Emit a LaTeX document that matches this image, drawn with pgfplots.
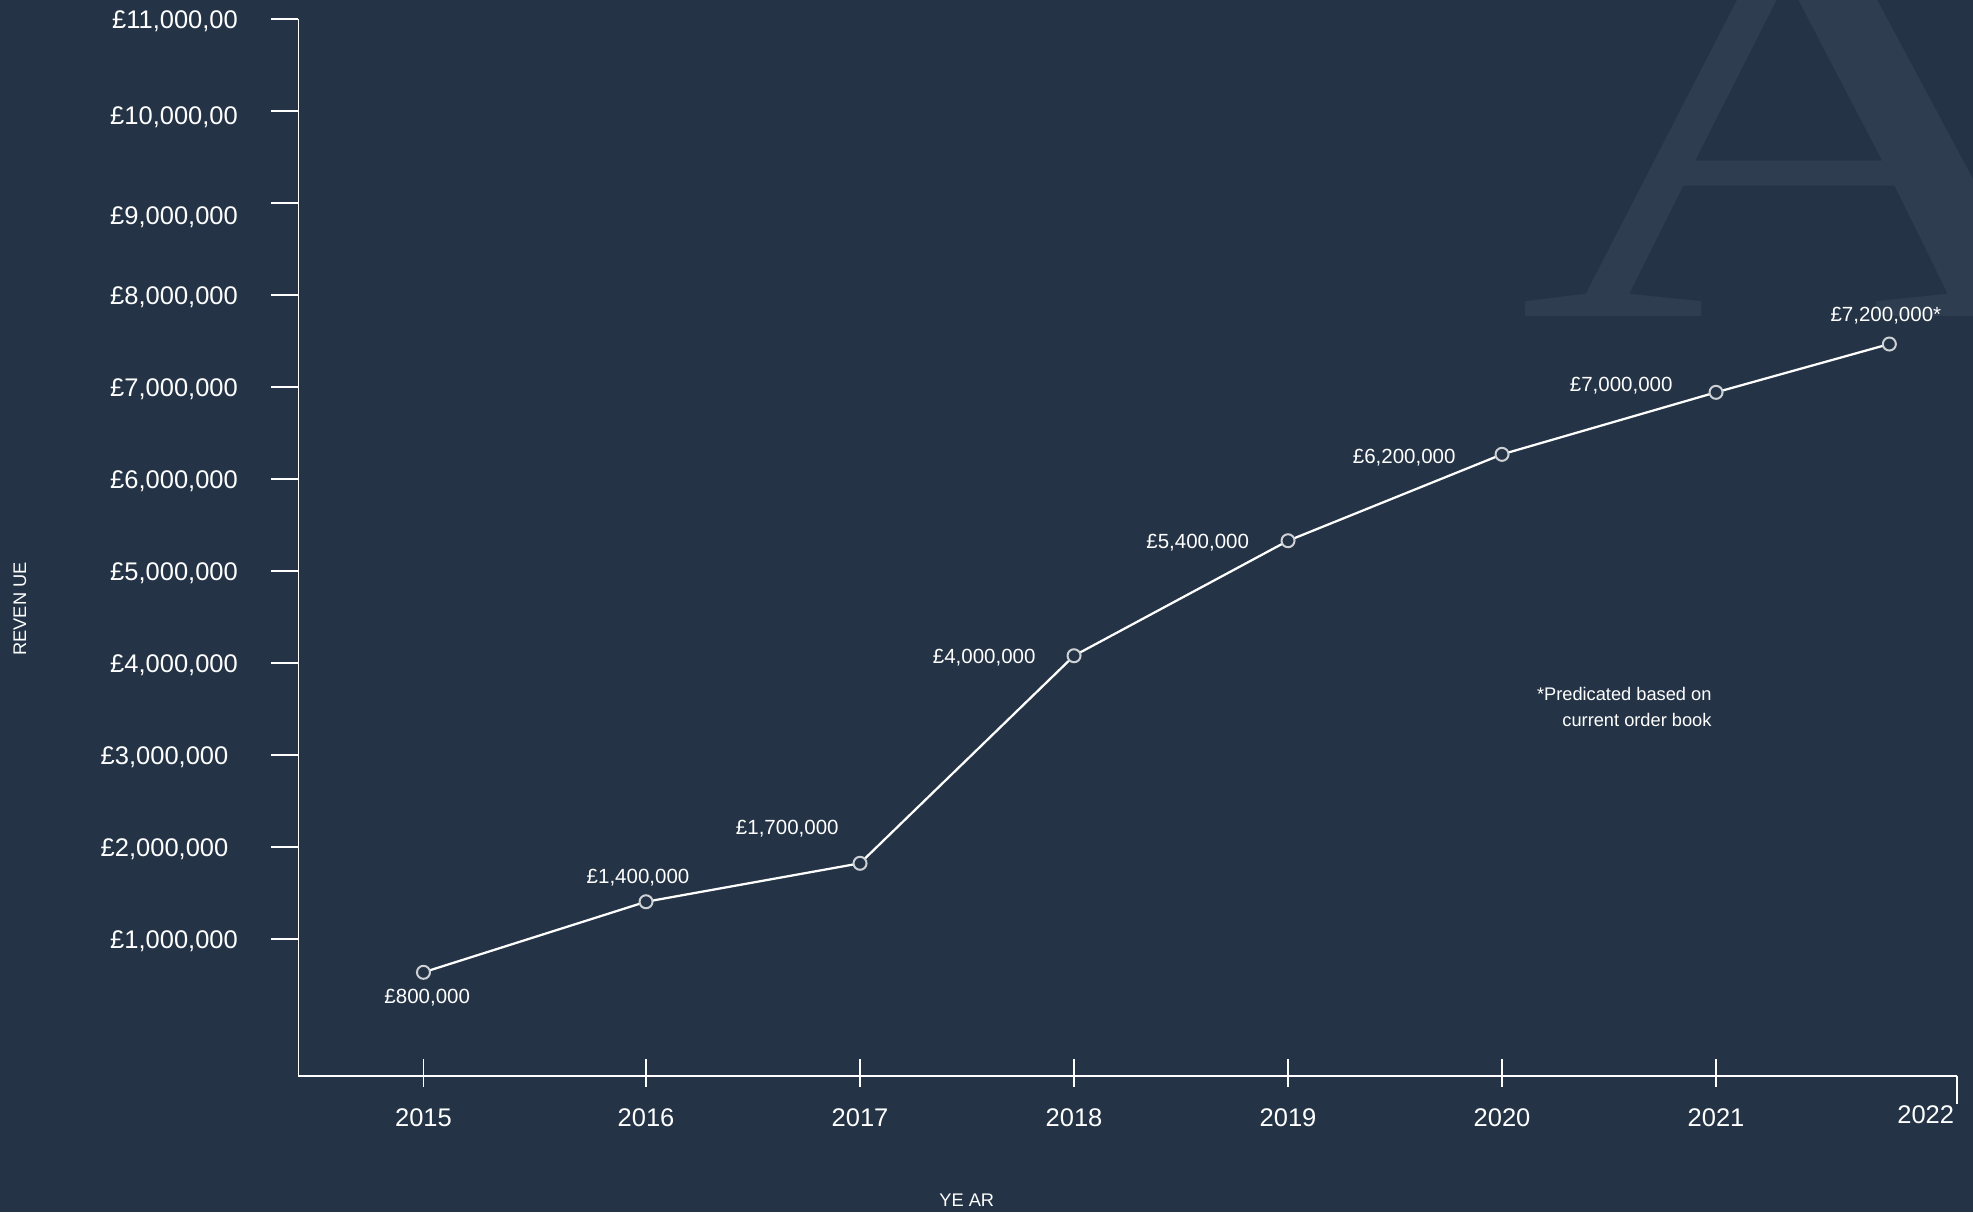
\documentclass[border=0pt]{standalone}
\usepackage{fontspec}
\setmainfont{Liberation Sans}
\newfontfamily\wmfont{Liberation Serif}
\usepackage{pgfplots}
\pgfplotsset{compat=1.18}

\definecolor{bg}{RGB}{36,52,70}
\definecolor{wm}{RGB}{46,62,80}
\definecolor{ring}{RGB}{205,208,212}

\newcommand\lbl{\fontsize{8.2}{9.8}\selectfont}

\begin{document}
\begin{tikzpicture}
\fill[bg] (-119.4pt,-54.4pt) rectangle (669.8pt,430.4pt);
\path[use as bounding box] (-119.4pt,-54.4pt) rectangle (669.8pt,430.4pt);
% watermark letter behind the chart
\begin{scope}
\clip (-119.4pt,-54.4pt) rectangle (669.8pt,430.4pt);
\node[anchor=base west, inner sep=0pt, xscale=1.06, yscale=0.74, text=wm, font=\wmfont\fontsize{309}{309}\selectfont] at (487.4pt,303.6pt) {A};
\end{scope}

\begin{axis}[
    at={(0pt,0pt)}, anchor=south west,
    scale only axis, width=663.3pt, height=422.8pt,
    xmin=2014.376, xmax=2022.125,
    ymin=-489000, ymax=11000000,
    axis x line=bottom, axis y line=left,
    axis line style={white, line width=0.6pt, -},
    clip=false,
    tick align=center, major tick length=11pt,
    xtick style={white, line width=0.6pt, yshift=1.2pt},
    ytick style={white, line width=0.6pt, xshift=-5.5pt},
    xtick={2014.96,2016,2017,2018,2019,2020,2021},
    xticklabels={2015,2016,2017,2018,2019,2020,2021},
    extra x ticks={2021.98},
    extra x tick labels={2022},
    extra x tick style={major tick length=0pt, tick label style={yshift=-4.5pt}},
    ytick={1000000,2000000,3000000,4000000,5000000,6000000,7000000,8000000,9000000,10000000,11000000},
    yticklabels={{£1,000,000},{£2,000,000\kern3.8pt},{£3,000,000\kern3.8pt},{£4,000,000},{£5,000,000},{£6,000,000},{£7,000,000},{£8,000,000},{\raisebox{-5pt}{£9,000,000}},{\raisebox{-1.6pt}{£10,000,00}},{£11,000,00}},
    scaled y ticks=false,
    xticklabel style={text=white, font=\fontsize{10.2}{12}\selectfont, anchor=base, inner sep=0pt, yshift=-14.5pt},
    yticklabel style={text=white, font=\fontsize{10.2}{12}\selectfont, anchor=base east, inner sep=0pt, xshift=-18.6pt, yshift=-3.7pt},
    xlabel={YE AR},
    ylabel={REVEN UE},
    xlabel style={at={(axis description cs:0.403,-0.123)}, anchor=base, text=white, font=\fontsize{7.3}{9}\selectfont},
    ylabel style={at={(axis description cs:-0.1643,0.4418)}, anchor=base, text=white, font=\fontsize{7.3}{9}\selectfont},
]
\addplot[white, line width=0.9pt, mark=*, mark size=2.6pt,
    mark options={fill=bg, draw=ring, line width=0.8pt}]
    coordinates {(2014.96,638000) (2016,1405000) (2017,1823000) (2018,4079000)
                 (2019,5329000) (2020,6268000) (2021,6942000) (2021.81,7467000)};

\draw[white, line width=0.6pt] (rel axis cs:1,0) -- ++(0pt,-11pt);

\begin{scope}[every node/.style={text=white, font=\lbl, inner sep=0pt}]
\node[anchor=base, xshift=1.5pt, yshift=-12.3pt] at (2014.96,638000) {£800,000};
\node[anchor=base, xshift=-3.2pt, yshift=7.5pt] at (2016,1405000) {£1,400,000};
\node[anchor=base, xshift=-29.1pt, yshift=11.7pt] at (2017,1823000) {£1,700,000};
\node[anchor=base east, xshift=-15.2pt, yshift=-3.0pt] at (2018,4079000) {£4,000,000};
\node[anchor=base east, xshift=-15.4pt, yshift=-3.3pt] at (2019,5329000) {£5,400,000};
\node[anchor=base east, xshift=-18.4pt, yshift=-3.6pt] at (2020,6268000) {£6,200,000};
\node[anchor=base east, xshift=-17.2pt, yshift=0.2pt] at (2021,6942000) {£7,000,000};
\node[anchor=base, xshift=-1.4pt, yshift=8.9pt] at (2021.81,7467000) {£7,200,000*};
\end{scope}

\node[anchor=base east, inner sep=0pt, text=white, font=\fontsize{7.3}{9}\selectfont] at (axis description cs:0.8524,0.3551) {*Predicated based on};
\node[anchor=base east, inner sep=0pt, text=white, font=\fontsize{7.3}{9}\selectfont] at (axis description cs:0.8524,0.3311) {current order book};
\end{axis}
\end{tikzpicture}
\end{document}
